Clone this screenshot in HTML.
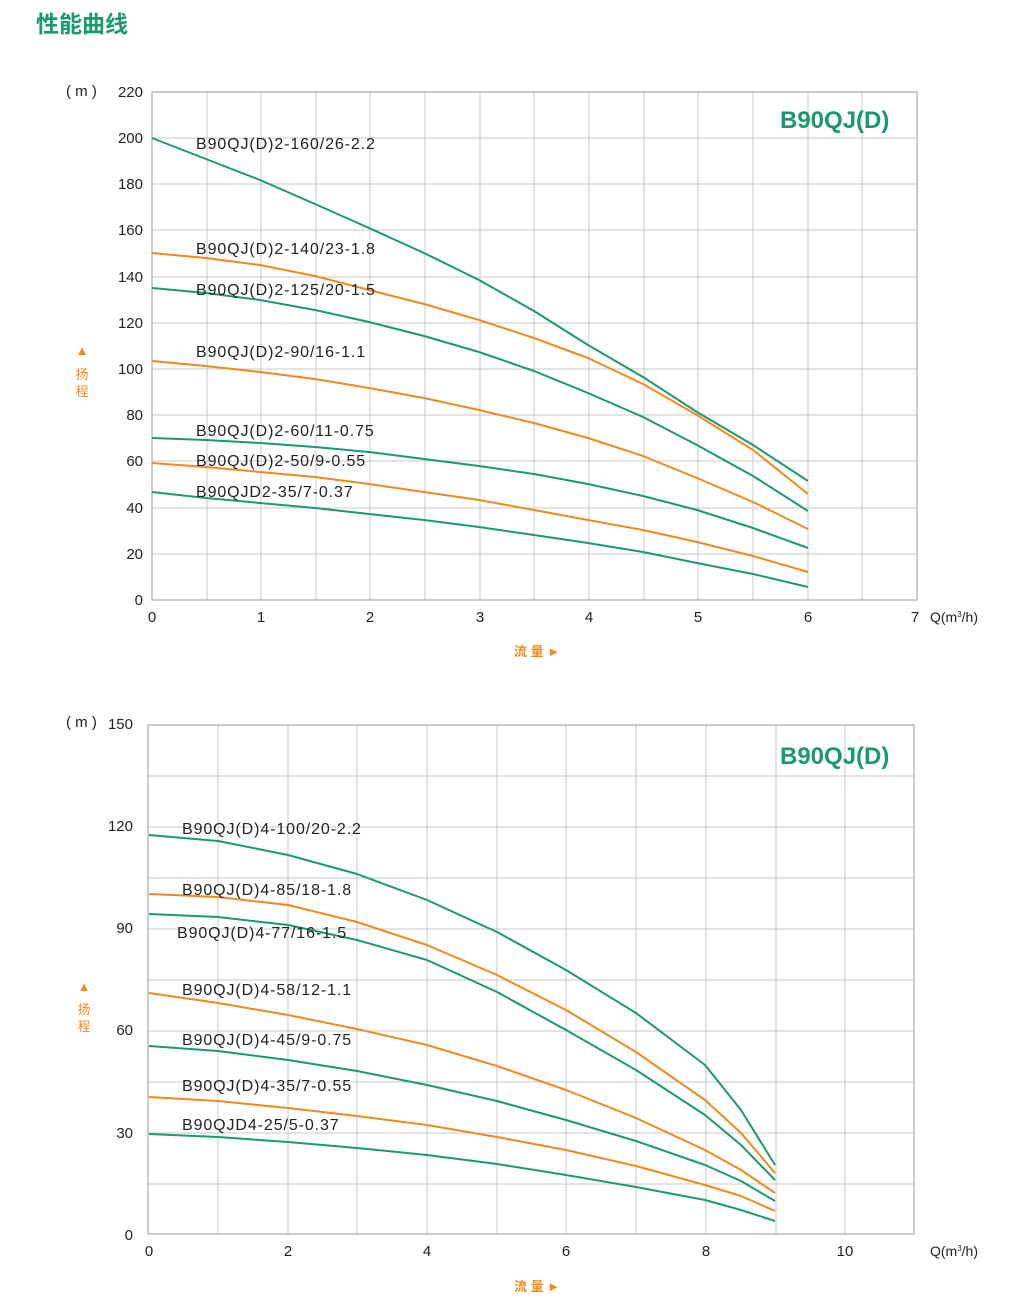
<!DOCTYPE html>
<html><head><meta charset="utf-8"><style>
body{margin:0;background:#fff;width:1009px;height:1304px;overflow:hidden}
svg text{font-family:"Liberation Sans","Noto Sans CJK SC",sans-serif}
</style></head><body>
<svg width="1009" height="1304" viewBox="0 0 1009 1304" xmlns="http://www.w3.org/2000/svg">
<text x="36" y="32" font-size="23" font-weight="bold" fill="#1a9a6a" font-family="Noto Sans CJK SC, sans-serif">性能曲线</text>

<!-- Chart 1 -->
<g stroke="#c8c8c8" stroke-width="1">
<line x1="207" y1="92" x2="207" y2="600"/><line x1="261" y1="92" x2="261" y2="600"/><line x1="316" y1="92" x2="316" y2="600"/><line x1="370" y1="92" x2="370" y2="600"/><line x1="425" y1="92" x2="425" y2="600"/><line x1="480" y1="92" x2="480" y2="600"/><line x1="534" y1="92" x2="534" y2="600"/><line x1="589" y1="92" x2="589" y2="600"/><line x1="644" y1="92" x2="644" y2="600"/><line x1="698" y1="92" x2="698" y2="600"/><line x1="753" y1="92" x2="753" y2="600"/><line x1="808" y1="92" x2="808" y2="600"/><line x1="862" y1="92" x2="862" y2="600"/>
<line x1="152" y1="138" x2="917" y2="138"/><line x1="152" y1="184" x2="917" y2="184"/><line x1="152" y1="230" x2="917" y2="230"/><line x1="152" y1="277" x2="917" y2="277"/><line x1="152" y1="323" x2="917" y2="323"/><line x1="152" y1="369" x2="917" y2="369"/><line x1="152" y1="415" x2="917" y2="415"/><line x1="152" y1="461" x2="917" y2="461"/><line x1="152" y1="508" x2="917" y2="508"/><line x1="152" y1="554" x2="917" y2="554"/>
</g>
<rect x="152" y="92" width="765" height="508" fill="none" stroke="#aaa" stroke-width="1.2"/>
<g font-size="15" fill="#222" text-anchor="end">
<text x="143" y="97">220</text><text x="143" y="143">200</text><text x="143" y="189">180</text><text x="143" y="235">160</text><text x="143" y="282">140</text><text x="143" y="328">120</text><text x="143" y="374">100</text><text x="143" y="420">80</text><text x="143" y="466">60</text><text x="143" y="513">40</text><text x="143" y="559">20</text><text x="143" y="605">0</text>
</g>
<g font-size="15" fill="#222" text-anchor="middle">
<text x="152" y="622">0</text><text x="261" y="622">1</text><text x="370" y="622">2</text><text x="480" y="622">3</text><text x="589" y="622">4</text><text x="698" y="622">5</text><text x="808" y="622">6</text><text x="915" y="622">7</text>
</g>
<text x="930" y="622" font-size="14" fill="#222">Q(m<tspan font-size="8" dy="-5">3</tspan><tspan dy="5">/h)</tspan></text>
<text x="66" y="96" font-size="15" fill="#222">( m )</text>
<text x="82" y="355" font-size="13" fill="#f08a1c" text-anchor="middle">▲</text>
<text x="82" y="379" font-size="13" fill="#f08a1c" text-anchor="middle">扬</text>
<text x="82" y="396" font-size="13" fill="#f08a1c" text-anchor="middle">程</text>
<text x="514" y="656" font-size="13" font-weight="bold" fill="#f08a1c">流 量 ►</text>
<text x="780" y="128" font-size="24" font-weight="bold" fill="#1a9a6a">B90QJ(D)</text>
<g fill="none" stroke-width="2" stroke-linejoin="round">
<polyline stroke="#1a9a72" points="152,138 206,159 260,180 315,204 369,228 424,253 479,280 534,311 588,345 643,377 697,412 753,445 808,481"/>
<polyline stroke="#f08a1c" points="152,253 206,258 260,265 315,276 369,290 424,304 479,320 534,338 588,358 643,384 697,415 753,450 808,494"/>
<polyline stroke="#1a9a72" points="152,288 206,293 260,300 315,310 369,322 424,336 479,352 534,371 588,393 643,417 697,445 753,476 808,511"/>
<polyline stroke="#f08a1c" points="152,361 206,366 260,372 315,379 369,388 424,398 479,410 534,423 588,438 643,456 697,478 753,502 808,529"/>
<polyline stroke="#1a9a72" points="152,438 206,440 260,443 315,447 369,452 424,459 479,466 534,474 588,484 643,496 697,510 753,528 808,548"/>
<polyline stroke="#f08a1c" points="152,463 206,467 260,472 315,477 369,484 424,492 479,500 534,510 588,520 643,530 697,542 753,556 808,572"/>
<polyline stroke="#1a9a72" points="152,492 206,498 260,503 315,508 369,514 424,520 479,527 534,535 588,543 643,552 697,563 753,574 808,587"/>
</g>
<g font-size="16" fill="#222" letter-spacing="0.9">
<text x="196" y="149">B90QJ(D)2-160/26-2.2</text>
<text x="196" y="254">B90QJ(D)2-140/23-1.8</text>
<text x="196" y="295">B90QJ(D)2-125/20-1.5</text>
<text x="196" y="357">B90QJ(D)2-90/16-1.1</text>
<text x="196" y="436">B90QJ(D)2-60/11-0.75</text>
<text x="196" y="466">B90QJ(D)2-50/9-0.55</text>
<text x="196" y="497">B90QJD2-35/7-0.37</text>
</g>

<!-- Chart 2 -->
<g stroke="#c8c8c8" stroke-width="1">
<line x1="218" y1="725" x2="218" y2="1234"/><line x1="288" y1="725" x2="288" y2="1234"/><line x1="357" y1="725" x2="357" y2="1234"/><line x1="427" y1="725" x2="427" y2="1234"/><line x1="497" y1="725" x2="497" y2="1234"/><line x1="566" y1="725" x2="566" y2="1234"/><line x1="636" y1="725" x2="636" y2="1234"/><line x1="706" y1="725" x2="706" y2="1234"/><line x1="776" y1="725" x2="776" y2="1234"/><line x1="845" y1="725" x2="845" y2="1234"/>
<line x1="148" y1="776" x2="914" y2="776"/><line x1="148" y1="827" x2="914" y2="827"/><line x1="148" y1="878" x2="914" y2="878"/><line x1="148" y1="929" x2="914" y2="929"/><line x1="148" y1="980" x2="914" y2="980"/><line x1="148" y1="1031" x2="914" y2="1031"/><line x1="148" y1="1082" x2="914" y2="1082"/><line x1="148" y1="1133" x2="914" y2="1133"/><line x1="148" y1="1184" x2="914" y2="1184"/>
</g>
<rect x="148" y="725" width="766" height="509" fill="none" stroke="#aaa" stroke-width="1.2"/>
<g font-size="15" fill="#222" text-anchor="end">
<text x="133" y="729">150</text><text x="133" y="831">120</text><text x="133" y="933">90</text><text x="133" y="1035">60</text><text x="133" y="1138">30</text><text x="133" y="1240">0</text>
</g>
<g font-size="15" fill="#222" text-anchor="middle">
<text x="149" y="1256">0</text><text x="288" y="1256">2</text><text x="427" y="1256">4</text><text x="566" y="1256">6</text><text x="706" y="1256">8</text><text x="845" y="1256">10</text>
</g>
<text x="930" y="1256" font-size="14" fill="#222">Q(m<tspan font-size="8" dy="-5">3</tspan><tspan dy="5">/h)</tspan></text>
<text x="66" y="727" font-size="15" fill="#222">( m )</text>
<text x="84" y="991" font-size="13" fill="#f08a1c" text-anchor="middle">▲</text>
<text x="84" y="1014" font-size="13" fill="#f08a1c" text-anchor="middle">扬</text>
<text x="84" y="1031" font-size="13" fill="#f08a1c" text-anchor="middle">程</text>
<text x="514" y="1291" font-size="13" font-weight="bold" fill="#f08a1c">流 量 ►</text>
<text x="780" y="764" font-size="24" font-weight="bold" fill="#1a9a6a">B90QJ(D)</text>
<g fill="none" stroke-width="2" stroke-linejoin="round">
<polyline stroke="#1a9a72" points="149,835 218,841 288,855 357,874 427,900 497,932 566,970 636,1013 705,1065 741,1110 775,1165"/>
<polyline stroke="#f08a1c" points="149,894 218,897 288,905 357,922 427,945 497,975 566,1010 636,1052 705,1100 741,1133 775,1173"/>
<polyline stroke="#1a9a72" points="149,914 218,917 288,925 357,940 427,960 497,992 566,1030 636,1070 705,1115 741,1145 775,1180"/>
<polyline stroke="#f08a1c" points="149,993 218,1003 288,1015 357,1029 427,1045 497,1066 566,1090 636,1118 705,1150 741,1170 775,1193"/>
<polyline stroke="#1a9a72" points="149,1046 218,1051 288,1060 357,1071 427,1085 497,1101 566,1120 636,1141 705,1165 741,1181 775,1201"/>
<polyline stroke="#f08a1c" points="149,1097 218,1101 288,1108 357,1116 427,1125 497,1137 566,1150 636,1166 705,1185 741,1196 775,1211"/>
<polyline stroke="#1a9a72" points="149,1134 218,1137 288,1142 357,1148 427,1155 497,1164 566,1175 636,1187 705,1200 741,1210 775,1221"/>
</g>
<g font-size="16" fill="#222" letter-spacing="0.9">
<text x="182" y="834">B90QJ(D)4-100/20-2.2</text>
<text x="182" y="895">B90QJ(D)4-85/18-1.8</text>
<text x="177" y="938">B90QJ(D)4-77/16-1.5</text>
<text x="182" y="995">B90QJ(D)4-58/12-1.1</text>
<text x="182" y="1045">B90QJ(D)4-45/9-0.75</text>
<text x="182" y="1091">B90QJ(D)4-35/7-0.55</text>
<text x="182" y="1130">B90QJD4-25/5-0.37</text>
</g>
</svg>
</body></html>
